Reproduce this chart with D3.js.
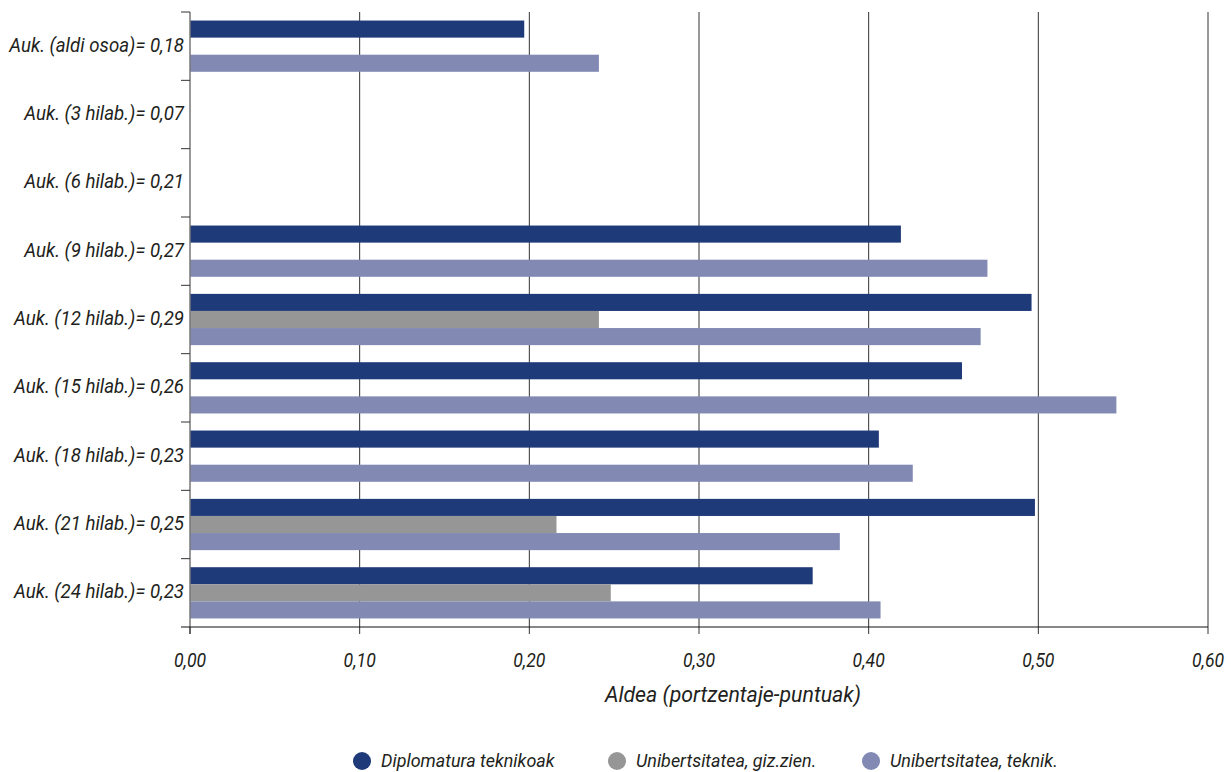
<!DOCTYPE html>
<html>
<head>
<meta charset="utf-8">
<script src="https://cdn.jsdelivr.net/npm/d3@7"></script>
<style>
  body { margin: 0; background: #fff; }
  text { font-family: "Roboto", sans-serif; font-style: italic; fill: #231f20; }
</style>
</head>
<body>
<div class="visual"></div>
<script>
const categories = [
    "Auk. (aldi osoa)= 0,18",
    "Auk. (3 hilab.)= 0,07",
    "Auk. (6 hilab.)= 0,21",
    "Auk. (9 hilab.)= 0,27",
    "Auk. (12 hilab.)= 0,29",
    "Auk. (15 hilab.)= 0,26",
    "Auk. (18 hilab.)= 0,23",
    "Auk. (21 hilab.)= 0,25",
    "Auk. (24 hilab.)= 0,23"
];

const seriesNames = ["Diplomatura teknikoak", "Unibertsitatea, giz.zien.", "Unibertsitatea, teknik."];
const seriesColors = ["#1e3a78", "#969696", "#828ab4"];

const diplomatura = [0.197, null, null, 0.419, 0.496, 0.455, 0.406, 0.498, 0.367];
const gizZien = [null, null, null, null, 0.241, null, null, 0.216, 0.248];
const teknik = [0.241, null, null, 0.470, 0.466, 0.546, 0.426, 0.383, 0.407];

const xTicks = [0, 0.1, 0.2, 0.3, 0.4, 0.5, 0.6];
const xTitle = "Aldea (portzentaje-puntuak)";

const seriesValues = [diplomatura, gizZien, teknik];

// condensed look: squeeze text horizontally
function narrowText(sel, xf, yf, sq) {
    return sel.attr("transform", (d, i) => `translate(${xf(d, i)}, ${yf(d, i)}) scale(${sq}, 1)`);
}

function display() {
    const width = 1231, height = 772;
    const left = 190, right = 1208, top = 12, bottom = 627;

    const svg = d3.select(".visual")
        .append("svg")
        .attr("width", width)
        .attr("height", height);

    const x = d3.scaleLinear().domain([0, 0.6]).range([left, right]);
    const y = d3.scaleBand().domain(categories).range([top, bottom])
        .paddingInner(0.25).paddingOuter(0.125);
    const sub = d3.scaleBand().domain(d3.range(3)).range([0, y.bandwidth()]);

    // vertical grid lines
    svg.append("g")
        .selectAll("line")
        .data(xTicks.slice(1))
        .enter()
        .append("line")
        .attr("x1", d => x(d))
        .attr("x2", d => x(d))
        .attr("y1", top)
        .attr("y2", bottom + 7)
        .attr("stroke", "#333")
        .attr("stroke-width", 1);

    // bars
    const rows = [];
    categories.forEach((c, i) => {
        seriesValues.forEach((vals, s) => {
            if (vals[i] != null) rows.push({ cat: c, s: s, value: vals[i] });
        });
    });

    svg.append("g")
        .selectAll("rect")
        .data(rows)
        .enter()
        .append("rect")
        .attr("x", x(0))
        .attr("y", d => y(d.cat) + sub(d.s))
        .attr("width", d => x(d.value) - x(0))
        .attr("height", sub.bandwidth())
        .attr("fill", d => seriesColors[d.s]);

    // left axis
    const step = y.step();
    const bounds = d3.range(categories.length).map(i => top + i * step);
    svg.append("line")
        .attr("x1", left).attr("x2", left)
        .attr("y1", top).attr("y2", bottom + 7)
        .attr("stroke", "#777").attr("stroke-width", 1.5);
    svg.append("g")
        .selectAll("line")
        .data(bounds)
        .enter()
        .append("line")
        .attr("x1", left - 9).attr("x2", left)
        .attr("y1", d => d).attr("y2", d => d)
        .attr("stroke", "#333").attr("stroke-width", 1);

    narrowText(svg.append("g")
        .selectAll("text")
        .data(categories)
        .enter()
        .append("text"), () => left - 6, d => y(d) + y.bandwidth() / 2, 0.89)
        .attr("text-anchor", "end")
        .attr("dominant-baseline", "middle")
        .style("font-size", "21px")
        .text(d => d);

    // bottom axis
    svg.append("line")
        .attr("x1", left - 9).attr("x2", right)
        .attr("y1", bottom).attr("y2", bottom)
        .attr("stroke", "#111").attr("stroke-width", 1);
    svg.append("line")
        .attr("x1", left).attr("x2", left)
        .attr("y1", bottom).attr("y2", bottom + 7)
        .attr("stroke", "#333").attr("stroke-width", 1);

    narrowText(svg.append("g")
        .selectAll("text")
        .data(xTicks)
        .enter()
        .append("text"), d => x(d), () => 667, 0.84)
        .attr("text-anchor", "middle")
        .style("font-size", "21px")
        .text(d => d.toFixed(2).replace(".", ","));

    narrowText(svg.append("text").datum(xTitle), () => 733, () => 702, 0.97)
        .attr("text-anchor", "middle")
        .style("font-size", "22px")
        .text(xTitle);

    // legend
    const legendX = [362, 617, 871];
    const legend = svg.append("g")
        .selectAll("g")
        .data(seriesNames)
        .enter()
        .append("g")
        .attr("transform", (d, i) => `translate(${legendX[i]}, 761)`);
    legend.append("circle")
        .attr("r", 9)
        .attr("fill", (d, i) => seriesColors[i]);
    legend.append("text")
        .attr("transform", "translate(19, 1) scale(0.97, 1)")
        .attr("dominant-baseline", "middle")
        .style("font-size", "18.5px")
        .text(d => d);
}

window.onload = function() {
    display();
};
</script>
</body>
</html>
